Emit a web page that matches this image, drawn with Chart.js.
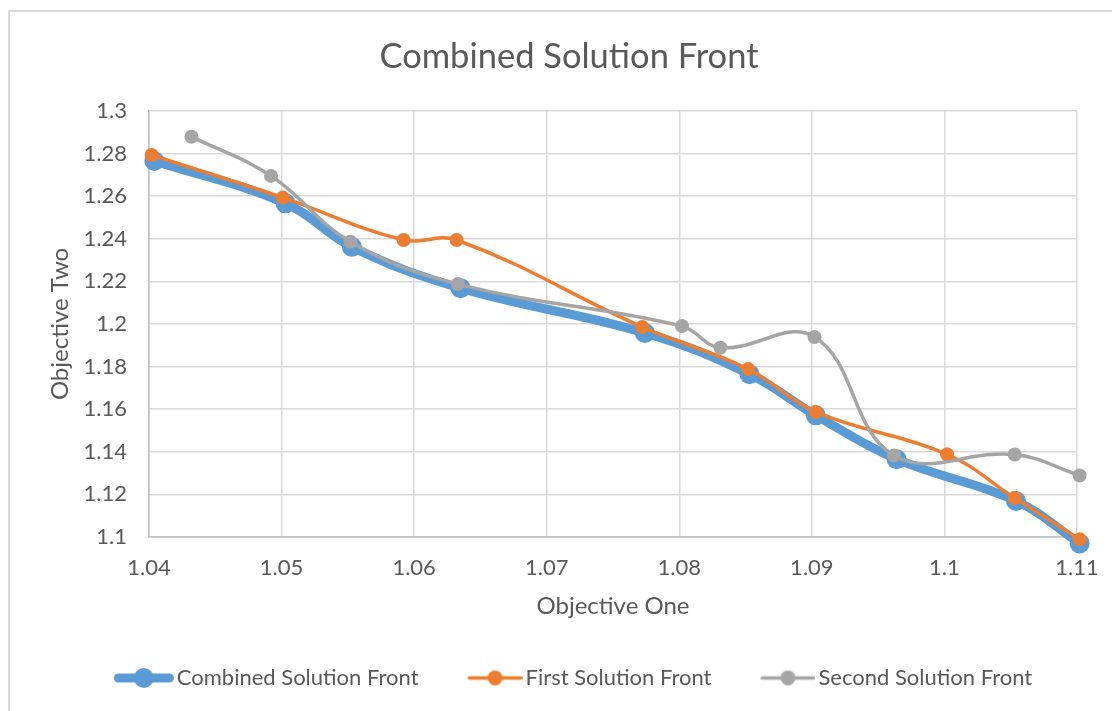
<!DOCTYPE html>
<html>
<head>
<meta charset="utf-8">
<script src="https://cdn.jsdelivr.net/npm/chart.js@4.4.1/dist/chart.umd.min.js"></script>
<style>
  html, body { margin: 0; padding: 0; background: #fff; overflow: hidden; width: 1112px; height: 711px; }
  #frame { position: absolute; left: 8px; top: 10px; width: 1200px; height: 800px; border: 2px solid #d9d9d9; box-sizing: border-box; }
  #chart { position: absolute; left: 9px; top: 11px; }
</style>
</head>
<body>
<div id="frame"></div>
<canvas id="chart" width="1120" height="700"></canvas>
<script>
// Pareto fronts: objective one (x) vs objective two (y)
const seriesNames = ['Combined Solution Front', 'First Solution Front', 'Second Solution Front'];

const combinedX = [1.0404, 1.0503, 1.0553, 1.0635, 1.0774, 1.0853, 1.0903, 1.0964, 1.1054, 1.1102];
const combinedY = [1.2765, 1.2566, 1.2362, 1.2168, 1.1958, 1.1764, 1.1571, 1.1365, 1.1169, 1.0970];

const firstX = [1.0402, 1.0501, 1.0592, 1.0632, 1.0772, 1.0852, 1.0903, 1.1002, 1.1053, 1.1102];
const firstY = [1.2793, 1.2593, 1.2394, 1.2394, 1.1986, 1.1788, 1.1587, 1.1388, 1.1183, 1.0989];

const secondX = [1.0432, 1.0492, 1.0552, 1.0633, 1.0802, 1.0831, 1.0902, 1.0962, 1.1053, 1.1102];
const secondY = [1.2879, 1.2695, 1.2386, 1.2187, 1.1990, 1.1888, 1.1939, 1.1383, 1.1387, 1.1289];

const xTickLabels = ['1.04', '1.05', '1.06', '1.07', '1.08', '1.09', '1.1', '1.11'];
const yTickLabels = ['1.1', '1.12', '1.14', '1.16', '1.18', '1.2', '1.22', '1.24', '1.26', '1.28', '1.3'];

const FONT = 'Lato, "Open Sans", sans-serif';
const TEXT = '#595959';
const colors = ['#5b9bd5', '#ed7d31', '#a5a5a5'];

function toPoints(xs, ys) {
  return xs.map((x, i) => ({ x: x, y: ys[i] }));
}

// legend swatch: a short line with a dot in the middle, right-aligned in the image
// so that it sits just before the label text
const SWATCH_W = 76;
function makeSwatch(color, lineW, radius, len) {
  const c = document.createElement('canvas');
  c.width = SWATCH_W;
  c.height = Math.ceil(radius * 2 + 2);
  const g = c.getContext('2d');
  const cy = c.height / 2;
  const x0 = SWATCH_W - len;
  g.strokeStyle = color;
  g.lineWidth = lineW;
  g.lineCap = 'round';
  g.beginPath();
  g.moveTo(x0 + lineW / 2, cy);
  g.lineTo(SWATCH_W - lineW / 2, cy);
  g.stroke();
  g.fillStyle = color;
  g.beginPath();
  g.arc(x0 + len / 2, cy, radius, 0, Math.PI * 2);
  g.fill();
  return c;
}
const swatches = [
  makeSwatch(colors[0], 9, 10, 60),
  makeSwatch(colors[1], 3.5, 7.5, 55),
  makeSwatch(colors[2], 3.5, 7.5, 55)
];

const data = {
  datasets: [
    { label: seriesNames[0], data: toPoints(combinedX, combinedY), borderColor: colors[0], backgroundColor: colors[0],
      borderWidth: 9, pointRadius: 10, pointHoverRadius: 10, pointBorderWidth: 0, tension: 0.4, order: 3, clip: false },
    { label: seriesNames[1], data: toPoints(firstX, firstY), borderColor: colors[1], backgroundColor: colors[1],
      borderWidth: 3.5, pointRadius: 7, pointHoverRadius: 7, pointBorderWidth: 0, tension: 0.4, order: 2, clip: false },
    { label: seriesNames[2], data: toPoints(secondX, secondY), borderColor: colors[2], backgroundColor: colors[2],
      borderWidth: 3.5, pointRadius: 7, pointHoverRadius: 7, pointBorderWidth: 0, tension: 0.4, order: 1, clip: false }
  ]
};

new Chart(document.getElementById('chart'), {
  type: 'line',
  data: data,
  options: {
    responsive: false,
    animation: false,
    layout: { padding: { left: 0, right: 0, top: 0, bottom: 12 } },
    plugins: {
      title: {
        display: true,
        text: 'Combined Solution Front',
        color: TEXT,
        font: { family: FONT, size: 34.5, weight: 'normal' },
        padding: { top: 25, bottom: 33.5 }
      },
      legend: {
        position: 'bottom',
        labels: {
          color: TEXT,
          font: { family: FONT, size: 22 },
          usePointStyle: true,
          pointStyleWidth: 60,
          padding: 36,
          sort: (a, b) => a.datasetIndex - b.datasetIndex,
          generateLabels: (chart) => {
            const items = Chart.defaults.plugins.legend.labels.generateLabels(chart);
            items.forEach(it => { it.pointStyle = swatches[it.datasetIndex]; });
            return items;
          }
        }
      },
      tooltip: { enabled: false }
    },
    scales: {
      x: {
        type: 'linear',
        min: 1.04,
        max: 1.11,
        afterFit: (s) => { s.height = 94; },
        ticks: {
          stepSize: 0.01,
          padding: 18,
          color: TEXT,
          font: { family: FONT, size: 22 },
          callback: (v, i) => xTickLabels[i]
        },
        grid: { color: '#d9d9d9', lineWidth: 1.5, drawTicks: false },
        border: { color: '#bfbfbf', width: 1.5 },
        title: {
          display: true,
          text: 'Objective One',
          color: TEXT,
          font: { family: FONT, size: 24 },
          padding: { top: 0, bottom: 10.5 }
        }
      },
      y: {
        type: 'linear',
        min: 1.1,
        max: 1.3,
        afterFit: (s) => { s.width = 140; },
        ticks: {
          stepSize: 0.02,
          padding: 22,
          color: TEXT,
          font: { family: FONT, size: 22 },
          callback: (v, i) => yTickLabels[i]
        },
        grid: { color: '#d9d9d9', lineWidth: 1.5, drawTicks: false },
        border: { color: '#bfbfbf', width: 1.5 },
        title: {
          display: true,
          text: 'Objective Two',
          color: TEXT,
          font: { family: FONT, size: 24 },
          padding: { top: 36.5, bottom: 0 }
        }
      },
      // empty right-hand margin so the plot ends short of the frame edge
      yRight: {
        type: 'linear',
        position: 'right',
        afterFit: (s) => { s.width = 52; },
        ticks: { display: false },
        grid: { display: false, drawTicks: false },
        border: { display: false },
        title: { display: false }
      }
    }
  }
});
</script>
</body>
</html>
